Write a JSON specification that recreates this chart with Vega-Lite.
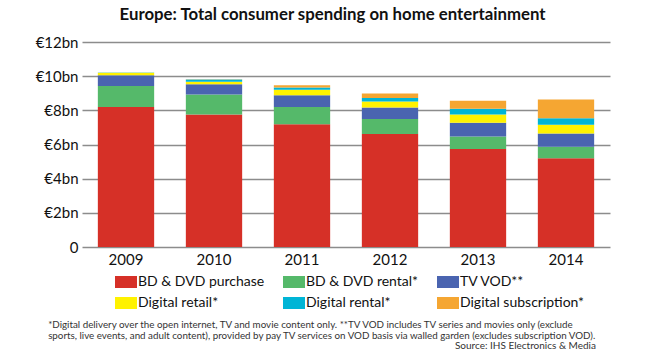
{
  "$schema": "https://vega.github.io/schema/vega-lite/v6.json",
  "background": "white",
  "padding": {"left": 35, "top": 7, "right": 20, "bottom": 4},
  "config": {
    "font": "Lato",
    "view": {"stroke": null},
    "concat": {"spacing": 0}
  },
  "title": {
    "text": "Europe: Total consumer spending on home entertainment",
    "fontSize": 16.8,
    "fontWeight": "bold",
    "color": "#111111",
    "anchor": "middle",
    "dx": 10,
    "offset": 11
  },
  "resolve": {"legend": {"color": "independent"}},
  "vconcat": [
    {
      "title": {
        "text": "Source: IHS Electronics & Media",
        "orient": "bottom",
        "anchor": "end",
        "fontSize": 10,
        "fontWeight": "normal",
        "color": "#333333",
        "dx": -14,
        "offset": 1
      },
      "resolve": {"legend": {"color": "independent"}},
      "vconcat": [
        {
          "width": 528,
          "height": 205,
          "title": {
            "text": [
              "*Digital delivery over the open internet, TV and movie content only. **TV VOD includes TV series and movies only (exclude",
              "sports, live events, and adult content), provided by pay TV services on VOD basis via walled garden (excludes subscription VOD)."
            ],
            "orient": "bottom",
            "anchor": "start",
            "fontSize": 9.8,
            "lineHeight": 10.5,
            "fontWeight": "normal",
            "color": "#333333",
            "dx": 13,
            "offset": 10
          },
          "data": {
            "values": [
              {"year": "2009", "type": "BD & DVD purchase", "k": 1, "value": 8.2},
              {"year": "2009", "type": "BD & DVD rental*", "k": 2, "value": 1.23},
              {"year": "2009", "type": "TV VOD**", "k": 3, "value": 0.63},
              {"year": "2009", "type": "Digital retail*", "k": 4, "value": 0.14},
              {"year": "2009", "type": "Digital rental*", "k": 5, "value": 0.01},
              {"year": "2009", "type": "Digital subscription*", "k": 6, "value": 0.0},
              {"year": "2010", "type": "BD & DVD purchase", "k": 1, "value": 7.76},
              {"year": "2010", "type": "BD & DVD rental*", "k": 2, "value": 1.17},
              {"year": "2010", "type": "TV VOD**", "k": 3, "value": 0.6},
              {"year": "2010", "type": "Digital retail*", "k": 4, "value": 0.15},
              {"year": "2010", "type": "Digital rental*", "k": 5, "value": 0.12},
              {"year": "2010", "type": "Digital subscription*", "k": 6, "value": 0.02},
              {"year": "2011", "type": "BD & DVD purchase", "k": 1, "value": 7.19},
              {"year": "2011", "type": "BD & DVD rental*", "k": 2, "value": 1.01},
              {"year": "2011", "type": "TV VOD**", "k": 3, "value": 0.69},
              {"year": "2011", "type": "Digital retail*", "k": 4, "value": 0.31},
              {"year": "2011", "type": "Digital rental*", "k": 5, "value": 0.14},
              {"year": "2011", "type": "Digital subscription*", "k": 6, "value": 0.13},
              {"year": "2012", "type": "BD & DVD purchase", "k": 1, "value": 6.61},
              {"year": "2012", "type": "BD & DVD rental*", "k": 2, "value": 0.88},
              {"year": "2012", "type": "TV VOD**", "k": 3, "value": 0.68},
              {"year": "2012", "type": "Digital retail*", "k": 4, "value": 0.35},
              {"year": "2012", "type": "Digital rental*", "k": 5, "value": 0.2},
              {"year": "2012", "type": "Digital subscription*", "k": 6, "value": 0.27},
              {"year": "2013", "type": "BD & DVD purchase", "k": 1, "value": 5.73},
              {"year": "2013", "type": "BD & DVD rental*", "k": 2, "value": 0.74},
              {"year": "2013", "type": "TV VOD**", "k": 3, "value": 0.8},
              {"year": "2013", "type": "Digital retail*", "k": 4, "value": 0.49},
              {"year": "2013", "type": "Digital rental*", "k": 5, "value": 0.33},
              {"year": "2013", "type": "Digital subscription*", "k": 6, "value": 0.47},
              {"year": "2014", "type": "BD & DVD purchase", "k": 1, "value": 5.19},
              {"year": "2014", "type": "BD & DVD rental*", "k": 2, "value": 0.68},
              {"year": "2014", "type": "TV VOD**", "k": 3, "value": 0.78},
              {"year": "2014", "type": "Digital retail*", "k": 4, "value": 0.5},
              {"year": "2014", "type": "Digital rental*", "k": 5, "value": 0.39},
              {"year": "2014", "type": "Digital subscription*", "k": 6, "value": 1.1}
            ]
          },
          "mark": {"type": "bar"},
          "encoding": {
            "x": {
              "field": "year",
              "type": "nominal",
              "scale": {"paddingInner": 0.36, "paddingOuter": 0.18},
              "axis": {
                "title": null,
                "labelAngle": 0,
                "labelFontSize": 15,
                "labelColor": "#111111",
                "labelPadding": 5,
                "ticks": false,
                "domain": false
              }
            },
            "y": {
              "field": "value",
              "type": "quantitative",
              "stack": "zero",
              "scale": {"domain": [0, 12], "nice": false},
              "axis": {
                "title": null,
                "values": [0, 2, 4, 6, 8, 10, 12],
                "labelExpr": "datum.value == 0 ? '0' : '€' + datum.value + 'bn'",
                "labelFontSize": 15,
                "labelColor": "#111111",
                "labelPadding": 4,
                "ticks": false,
                "domain": false,
                "gridColor": "#8c8c8c",
                "gridWidth": 1.5,
                "gridOpacity": 1
              }
            },
            "order": {"field": "k", "type": "quantitative", "sort": "ascending"},
            "color": {
              "field": "type",
              "type": "nominal",
              "scale": {
                "domain": ["BD & DVD purchase", "BD & DVD rental*", "TV VOD**", "Digital retail*", "Digital rental*", "Digital subscription*"],
                "range": ["#d63027", "#55b96a", "#4a64b0", "#fff200", "#00b5d6", "#f5a632"]
              },
              "legend": {
                "title": null,
                "orient": "none",
                "legendX": 37,
                "legendY": 233,
                "direction": "horizontal",
                "columns": 3,
                "gridAlign": "each",
                "columnPadding": 18,
                "rowPadding": 7,
                "symbolType": "M-1.83,-1H1.83V1H-1.83Z",
                "symbolSize": 144,
                "symbolStrokeWidth": 0,
                "symbolOpacity": 1,
                "labelFontSize": 14,
                "labelColor": "#111111",
                "labelOffset": 5,
                "labelLimit": 300
              }
            }
          }
        }
      ]
    }
  ]
}
